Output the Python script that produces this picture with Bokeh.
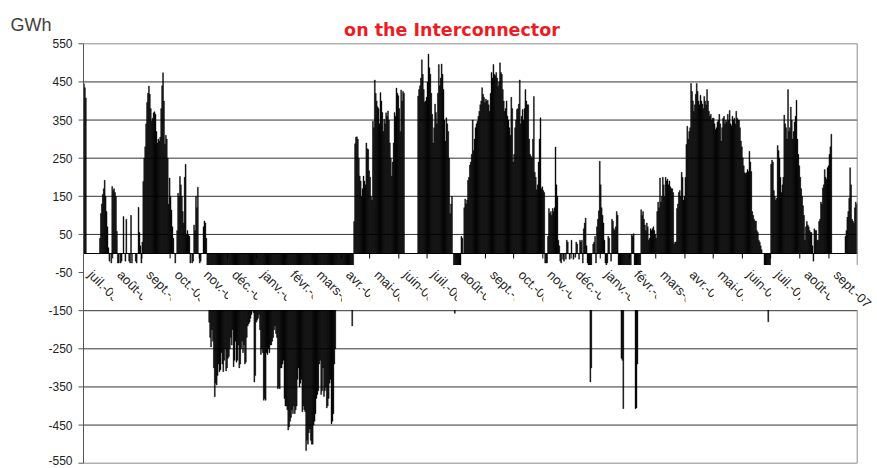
import numpy as np
from bokeh.plotting import figure
from bokeh.models import Range1d
from bokeh.core.properties import value
from bokeh.embed import file_html
from bokeh.resources import INLINE

# ---- categories (months) ----
month_labels = ["juil.-05", "août-05", "sept.-05", "oct.-05", "nov.-05", "déc.-05",
                "janv.-06", "févr.-06", "mars-06", "avr.-06", "mai-06", "juin-06",
                "juil.-06", "août-06", "sept.-06", "oct.-06", "nov.-06", "déc.-06",
                "janv.-07", "févr.-07", "mars-07", "avr.-07", "mai-07", "juin-07",
                "juil.-07", "août-07", "sept.-07"]
month_days = [31, 31, 30, 31, 30, 31, 31, 28, 31, 30, 31, 30,
              31, 31, 30, 31, 30, 31, 31, 28, 31, 30, 31, 30, 31, 31, 30]

# ---- daily net flows (GWh) ----
jul05 = [445,435,408,0,0,0,0,0,0,0,0,0,0,0,0,0,0,40,105,130,155,170,192,150,110,70,15,-20,0,-25,176]
aug05 = [165,170,160,150,58,-25,-25,0,-25,-20,0,97,0,-20,90,0,0,-20,-25,100,-25,0,0,0,-20,-25,0,121,55,20,-25]
sep05 = [30,189,250,280,340,396,420,439,418,380,347,355,369,372,365,320,290,300,295,305,380,440,474,400,287,310,300,250,129,198]
oct05 = [150,114,70,40,0,-25,0,60,158,150,202,180,150,110,80,200,234,50,60,50,45,-25,0,-25,-20,75,60,150,120,174,0]
nov05 = [-25,-20,0,0,70,85,80,40,-40,-60,-180,-220,-245,-200,-230,-300,-376,-340,-345,-320,-290,-310,-305,-260,-290,-310,-280,-250,-308,-300]
dec05 = [-275,-270,-250,-220,-240,-200,-297,-280,-230,-285,-280,-240,-300,-290,-250,-230,-260,-240,-290,-285,-220,-190,-185,-180,-170,-160,-150,-155,-337,-320,-180]
jan06 = [-175,-170,-160,-200,-265,-250,-260,-385,-380,-385,-260,-265,-250,-260,-240,-240,-230,-220,-200,-190,-210,-220,-355,-350,-355,-300,-300,-290,-280,-380,-400]
feb06 = [-400,-410,-463,-455,-440,-430,-410,-420,-400,-420,-410,-400,-330,-300,-350,-340,-330,-415,-400,-410,-415,-517,-490,-500,-470,-460,-490,-500]
mar06 = [-500,-450,-440,-420,-380,-370,-360,-290,-280,-370,-360,-300,-375,-360,-350,-405,-400,-380,-340,-330,-447,-440,-420,-290,-250,-60,-50,-45,-40,-45,-40]
apr06 = [-40,-45,-40,-35,-40,-45,-40,-35,-40,-40,-35,-190,-30,84,288,305,306,300,250,203,190,150,170,203,190,180,290,275,273,217]
may06 = [200,150,140,347,330,455,420,400,385,380,340,422,400,370,320,352,340,369,360,374,350,290,250,203,240,290,370,360,434,420,414]
jun06 = [380,320,429,400,425,420,0,0,0,0,0,0,0,0,0,0,0,0,0,0,413,430,440,460,508,470,430,397,400,410]
jul06 = [450,523,487,470,420,365,290,330,392,370,340,420,496,440,460,497,470,430,350,295,356,340,320,250,105,130,150,0,-30,-157,-30]
aug06 = [-30,-30,-30,-30,-30,45,40,0,120,143,130,140,192,200,232,240,260,350,270,300,330,340,347,360,373,390,400,435,418,410,396]
sep06 = [405,400,402,390,373,420,475,460,496,470,466,475,460,439,450,500,475,470,430,400,373,380,400,360,350,330,310,410,380,240]
oct06 = [260,330,350,378,380,392,455,340,360,378,350,380,430,400,390,390,300,260,255,250,300,412,213,200,167,180,240,300,356,170,175]
nov06 = [165,160,-25,-25,-25,45,118,105,110,100,118,110,120,279,180,150,35,20,-20,-25,0,-15,-20,0,-15,35,30,0,-15,0]
dec06 = [35,0,-15,0,-10,30,25,0,-15,35,30,35,-25,65,80,93,20,-25,-30,-30,-337,-300,0,25,30,45,-25,70,90,112,242]
jan07 = [180,120,100,80,35,-25,-30,-25,45,40,0,-20,90,85,65,60,70,110,100,-30,-30,-35,-275,-280,-407,-40,-35,-30,-35,-30,-35]
feb07 = [-30,-30,50,45,52,-30,-407,-405,-290,-35,-30,-30,115,100,110,90,75,60,80,70,35,40,65,60,65,70,60,50]
mar07 = [40,110,135,120,198,135,150,200,180,150,200,190,195,180,190,175,170,170,160,25,30,30,118,130,160,165,150,213,200,140,150]
apr07 = [200,286,334,300,320,330,446,425,400,373,390,418,446,425,400,390,415,400,392,380,412,400,390,430,400,373,360,365,350,355]
may07 = [355,340,325,330,345,350,365,340,295,330,355,360,340,350,345,365,350,375,340,335,360,350,355,340,373,355,350,350,330,295,280]
jun07 = [251,230,212,210,212,220,215,268,240,215,110,100,90,85,85,60,55,35,30,20,10,0,0,-30,-30,-30,-30,-179,-30,-30]
jul07 = [234,245,240,165,150,140,145,283,270,250,200,160,180,200,363,340,330,300,430,320,330,384,350,300,320,345,360,402,300,260,230]
aug07 = [200,170,150,125,100,35,70,84,75,70,60,55,55,20,-20,65,60,60,35,35,84,90,135,130,172,180,220,200,195,225,230]
sep07 = [260,280,313,0,0,0,0,0,0,0,0,0,0,0,0,0,0,45,60,95,110,145,225,180,90,85,80,120,135,130]

monthly = [jul05, aug05, sep05, oct05, nov05, dec05, jan06, feb06, mar06, apr06, may06, jun06,
           jul06, aug06, sep06, oct06, nov06, dec06, jan07, feb07, mar07, apr07, may07, jun07,
           jul07, aug07, sep07]

y_ticks = list(range(-550, 551, 100))
y_tick_labels = [str(t) for t in y_ticks]

# ---- positions from the month calendar ----
starts = np.concatenate([[0], np.cumsum(month_days)[:-1]]).astype(float)
total_days = float(sum(month_days))
xs, ys = [], []
for s, vals in zip(starts, monthly):
    for k, v in enumerate(vals):
        xs.append(s + k + 0.5)
        ys.append(v)

# ---- layout (pixels -> data); frame = whole canvas ----
W, H = 877, 468
px_day = 773.7 / total_days          # pixels per day
x0 = -83.0 / px_day                  # plot area starts 83px from the left
x1 = x0 + W / px_day
py_unit = 419.4 / 1100.0             # pixels per GWh
y_top = 550 + 43.3 / py_unit         # 550 line 43.3px from the top
y_bot = y_top - H / py_unit

p = figure(width=W, height=H, x_range=Range1d(x0, x1), y_range=Range1d(y_bot, y_top),
           x_axis_location=None, y_axis_location=None, toolbar_location=None,
           output_backend="svg", min_border=0)
p.outline_line_color = None
p.background_fill_color = "white"
p.border_fill_color = "white"
for g in p.grid:
    g.visible = False

inner = y_ticks[1:-1]
# gridlines
p.segment(x0=[0] * len(inner), y0=inner, x1=[total_days] * len(inner), y1=inner,
          line_color="#333333", line_width=1)

# bars
p.vbar(x=xs, top=ys, bottom=0, width=1.0, fill_color="black", line_color="black", line_width=0.4)

# zero line and month ticks
p.segment(x0=[0], y0=[0], x1=[total_days], y1=[0], line_color="black", line_width=1)
p.segment(x0=starts, y0=[0] * len(starts), x1=starts, y1=[-13] * len(starts),
          line_color="black", line_width=1)

# frame border (top, right, bottom)
p.segment(x0=[0, total_days, 0], y0=[550, 550, -550], x1=[total_days, total_days, total_days],
          y1=[550, -550, -550], line_color="#8c8c8c", line_width=1)

# y axis line, ticks, labels (lowest label nudged up so it stays inside the page)
p.segment(x0=[0], y0=[-550], x1=[0], y1=[550], line_color="#555555", line_width=1)
p.segment(x0=[-5.3] * len(y_ticks), y0=y_ticks, x1=[0] * len(y_ticks), y1=y_ticks,
          line_color="#555555", line_width=1)
label_y = [t if t > -550 else t + 2.5 / py_unit for t in y_ticks]
p.text(x=[-11.7] * len(y_ticks), y=label_y, text=y_tick_labels, text_align="right",
       text_baseline="middle", text_font=value("Liberation Sans"), text_font_size="12px",
       text_color="#222222")

# month labels with white backing boxes (each covering the tail of the previous one)
for s, lab in zip(starts, month_labels):
    p.quad(left=[s + 0.5], right=[s + 50], top=[-30.2], bottom=[-148],
           fill_color="white", line_color=None)
    p.text(x=[s + 13], y=[-36.0], text=[lab], angle=-45, angle_units="deg",
           text_align="left", text_baseline="top", text_font=value("Liberation Sans"),
           text_font_size="13px", text_color="#262626")

# title and unit
p.text(x=[(451.5 - 83) / px_day], y=[550 + (43.3 - 29.3) / py_unit],
       text=["on the Interconnector"], text_align="center", text_baseline="alphabetic",
       text_font=value("DejaVu Sans"), text_font_style="bold", text_font_size="17.5px",
       text_color="#ed1c24")
p.text(x=[(10 - 83) / px_day], y=[550 + (43.3 - 24.3) / py_unit], text=["GWh"],
       text_align="left", text_baseline="alphabetic", text_font=value("Liberation Sans"),
       text_font_size="18px", text_color="#404040")

open("out.html", "w").write(file_html(p, INLINE))
